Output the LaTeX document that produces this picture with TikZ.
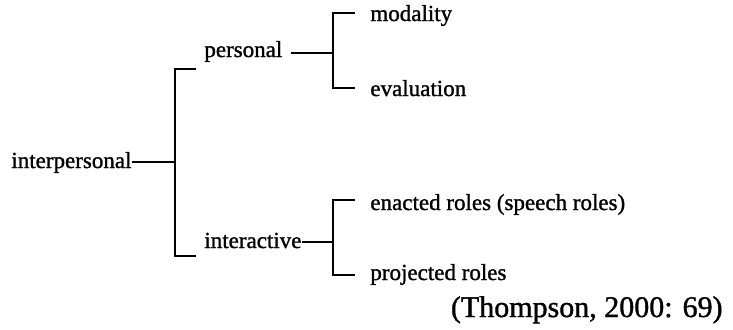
\documentclass[tikz,border=0pt]{standalone}
\usepackage{fontspec}
\setmainfont{Liberation Serif}
\newfontfamily\scanfont{Liberation Serif}[FakeBold=1.2]
\usetikzlibrary{positioning}

\begin{document}
\begin{tikzpicture}[x=0.5pt, y=-0.5pt,
    term/.style={
        inner sep=0pt,
        anchor=base west,
        font=\scanfont\fontsize{11.5}{13}\selectfont
    },
    source/.style={
        inner sep=0pt,
        anchor=base east,
        font=\scanfont\fontsize{15}{17}\selectfont
    },
    link/.style={line width=1.1pt, black}
]
\useasboundingbox (0,0) rectangle (733,329);

% ===== LEVEL 1 =====
\node[term] (interp) at (11,168) {interpersonal};
\coordinate (maintop) at (175,69);
\coordinate (mainbot) at (175,256);

\draw[link] (interp.east |- 0,162) -- (maintop |- 0,162);
\draw[link] (maintop) ++(21,0) -- (maintop) -- (mainbot) -- ++(21,0);

% ===== LEVEL 2 =====
\node[term] (pers) at (204,57) {personal};
\node[term] (inter) at (204,248) {interactive};
\coordinate (perstop) at (333,13);
\coordinate (persbot) at (333,88);
\coordinate (intertop) at (333,200);
\coordinate (interbot) at (333,275);

\draw[link] ([xshift=4pt]pers.east |- 0,53) -- (perstop |- 0,53);
\draw[link] (perstop) ++(22,0) -- (perstop) -- (persbot) -- ++(22,0);
\draw[link] (inter.east |- 0,242) -- (intertop |- 0,242);
\draw[link] (intertop) ++(22,0) -- (intertop) -- (interbot) -- ++(22,0);

% ===== LEVEL 3 =====
\node[term] (moda) at (370,21) {modality};
\node[term] (eval) at (370,96) {evaluation};
\node[term] (enact) at (370,210) {enacted roles (speech roles)};
\node[term] (proj) at (370,280) {projected roles};

\node[source] (cite) at (723,317) {(Thompson, 2000: 69)};

\end{tikzpicture}
\end{document}
